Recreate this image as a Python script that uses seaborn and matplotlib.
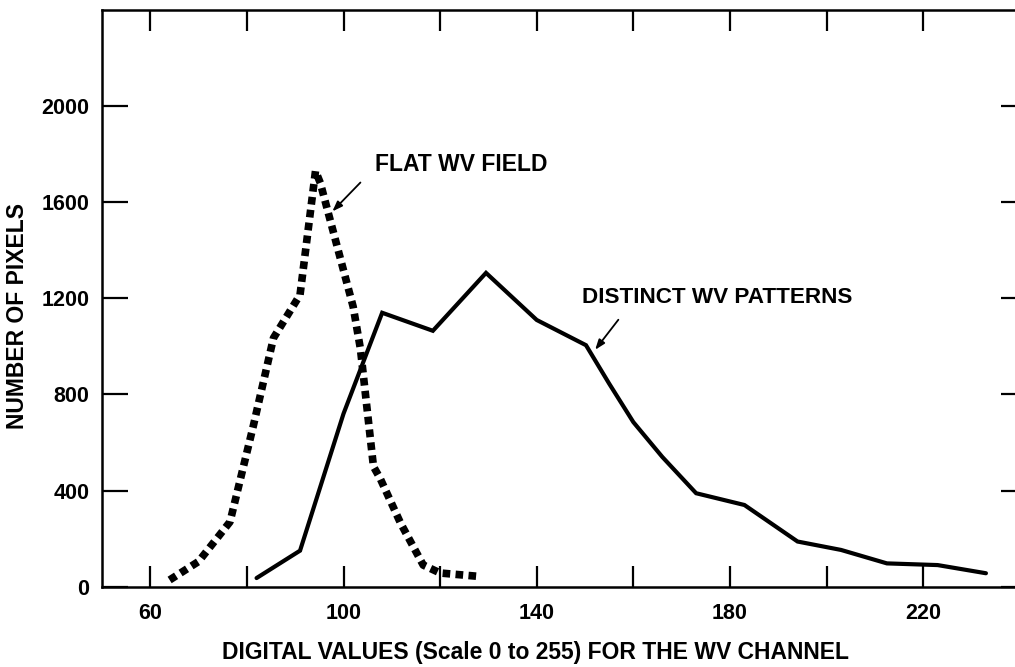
import matplotlib
matplotlib.use("Agg")
import matplotlib.pyplot as plt
import seaborn as sns
import pandas as pd

# ---- data ----
flat_x = [64, 70, 76.5, 81.3, 85.5, 91, 94.2, 95.2, 102, 103.5, 106.2, 107.6, 111.8, 116.5, 120, 128.5]
flat_y = [28, 105, 270, 667, 1035, 1215, 1730, 1680, 1165, 990, 500, 450, 265, 90, 57, 42]

solid_x = [82, 91, 100, 108, 118.5, 129.5, 140, 150.2, 155, 160, 166, 173, 183, 194, 203, 212.5, 223, 233]
solid_y = [36, 150, 720, 1140, 1065, 1306, 1110, 1005, 845, 685, 540, 389, 340, 188, 153, 97, 90, 56]

x_ticks = [60, 80, 100, 120, 140, 160, 180, 200, 220]
x_labels = ["60", "", "100", "", "140", "", "180", "", "220"]
y_ticks = [0, 400, 800, 1200, 1600, 2000]
y_labels = ["0", "400", "800", "1200", "1600", "2000"]

flat_label = "FLAT WV FIELD"
distinct_label = "DISTINCT WV PATTERNS"
x_title = "DIGITAL VALUES (Scale 0 to 255) FOR THE WV CHANNEL"
y_title = "NUMBER OF PIXELS"

sns.set_style("ticks")
plt.rcParams['font.family'] = ['Liberation Sans', 'DejaVu Sans']
plt.rcParams['text.color'] = 'black'
plt.rcParams['axes.labelcolor'] = 'black'
plt.rcParams['xtick.color'] = 'black'
plt.rcParams['ytick.color'] = 'black'

flat_df = pd.DataFrame({"x": flat_x, "y": flat_y})
solid_df = pd.DataFrame({"x": solid_x, "y": solid_y})

fig = plt.figure(figsize=(10.15, 6.67), dpi=100)
ax = fig.add_axes([102 / 1015, 80.3 / 667, (1027 - 102) / 1015, 576.7 / 667])

sns.lineplot(data=solid_df, x="x", y="y", ax=ax, color="black", linewidth=3.0,
             sort=False, estimator=None)
sns.lineplot(data=flat_df, x="x", y="y", ax=ax, color="black", linewidth=5.5,
             sort=False, estimator=None, linestyle=(0, (1, 0.7)),
             dash_capstyle="butt")
for ln in ax.lines:
    ln.set_solid_joinstyle("miter")

ax.set_xlim(50, 241.5)
ax.set_ylim(0, 2400)

ax.set_xticks(x_ticks)
ax.set_xticklabels(x_labels)
ax.set_yticks(y_ticks)
ax.set_yticklabels(y_labels)

for sp in ax.spines.values():
    sp.set_linewidth(1.8)
    sp.set_color("black")
    sp.set_visible(True)

ax.tick_params(axis="x", which="major", direction="in", length=15, width=1.6,
               top=True, bottom=True, pad=12, labelsize=15.5, colors="black")
ax.tick_params(axis="y", which="major", direction="in", length=19, width=1.6,
               left=True, right=True, pad=9, labelsize=15.5, colors="black")
for lab in ax.get_xticklabels() + ax.get_yticklabels():
    lab.set_fontweight("bold")
    lab.set_color("black")

ax.set_xlabel("")
ax.set_ylabel("")

fig.text(535 / 1015, 1 - 653 / 667, x_title, ha="center", va="center",
         fontsize=16.5, fontweight="bold", color="black")
fig.text(18 / 1015, 1 - 316 / 667, y_title, ha="center", va="center",
         rotation=90, fontsize=16.5, fontweight="bold", color="black")

ax.text(124.4, 1757, flat_label, ha="center", va="center", fontsize=16.5,
        fontweight="bold", color="black")
ax.text(177.4, 1203, distinct_label, ha="center", va="center", fontsize=16.2,
        fontweight="bold", color="black")

arrow_props = dict(arrowstyle="-|>,head_length=0.6,head_width=0.22",
                   color="black", lw=1.3, shrinkA=0, shrinkB=0)
ax.annotate("", xy=(97.7, 1562), xytext=(103.5, 1682), arrowprops=arrow_props)
ax.annotate("", xy=(152.1, 986), xytext=(156.9, 1111), arrowprops=arrow_props)

fig.savefig("out.png", dpi=100)
